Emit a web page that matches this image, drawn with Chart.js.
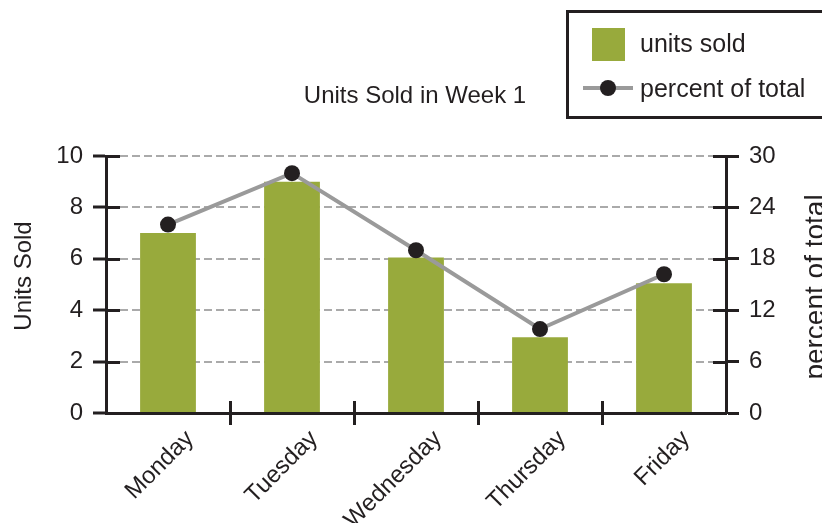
<!DOCTYPE html>
<html>
<head>
<meta charset="utf-8">
<title>Units Sold in Week 1</title>
<script src="https://cdn.jsdelivr.net/npm/chart.js@4"></script>
<style>
    html, body { margin: 0; padding: 0; background: #fff; }
    #wrap { width: 822px; height: 523px; }
</style>
</head>
<body>
<div id="wrap"><canvas id="week-chart" width="822" height="523"></canvas></div>
<script>
// 曜日ごとの販売数と構成比
const days = ['Monday', 'Tuesday', 'Wednesday', 'Thursday', 'Friday'];
const unitsSold = [7, 9, 6.05, 2.95, 5.05];
const percentOfTotal = [22, 28, 19, 9.8, 16.2];
const unitTicks = [0, 2, 4, 6, 8, 10];
const percentTicks = [0, 6, 12, 18, 24, 30];

const ink = '#231f20';
const green = '#98aa3c';
const lineGray = '#9a9a9a';
const font = 'Liberation Sans, Arial, sans-serif';

// タイトル・凡例・軸の目盛りなどを手描き
const decorations = {
    id: 'decorations',
    afterDraw(chart) {
        const { ctx, chartArea: area, scales } = chart;
        const x = scales.x, y = scales.y, y1 = scales.y1;
        ctx.save();

        // 軸の内側に出る目盛り
        ctx.strokeStyle = ink;
        ctx.lineWidth = 3;
        ctx.beginPath();
        y.ticks.forEach(t => {
            const py = Math.round(y.getPixelForValue(t.value)) + 0.5;
            ctx.moveTo(area.left, py);
            ctx.lineTo(area.left + 14, py);
        });
        y1.ticks.forEach(t => {
            const py = Math.round(y1.getPixelForValue(t.value)) + 0.5;
            ctx.moveTo(area.right - 13, py);
            ctx.lineTo(area.right, py);
        });
        // カテゴリ境界の十字目盛り
        for (let i = 1; i < days.length; i++) {
            const px = Math.round((x.getPixelForValue(i - 1) + x.getPixelForValue(i)) / 2) + 0.5;
            ctx.moveTo(px, area.bottom - 12);
            ctx.lineTo(px, area.bottom + 12);
        }
        ctx.stroke();

        // 横軸ラベル（45度回転）
        ctx.fillStyle = ink;
        ctx.font = '24px ' + font;
        ctx.textAlign = 'right';
        ctx.textBaseline = 'middle';
        days.forEach((d, i) => {
            ctx.save();
            ctx.translate(x.getPixelForValue(i) + 22, area.bottom + 22);
            ctx.rotate(-Math.PI / 4);
            ctx.fillText(d, 0, 0);
            ctx.restore();
        });

        // 軸タイトル
        ctx.textAlign = 'center';
        ctx.textBaseline = 'alphabetic';
        ctx.save();
        ctx.translate(31, 276);
        ctx.rotate(-Math.PI / 2);
        ctx.fillText('Units Sold', 0, 0);
        ctx.restore();
        ctx.save();
        ctx.font = '28px ' + font;
        ctx.translate(824, 287);
        ctx.rotate(-Math.PI / 2);
        ctx.fillText('percent of total', 0, 0);
        ctx.restore();

        // グラフタイトル
        ctx.fillText('Units Sold in Week 1', 415, 103);

        // 凡例
        const bars = chart.data.datasets[1];
        const line = chart.data.datasets[0];
        ctx.lineWidth = 3;
        ctx.strokeStyle = ink;
        ctx.strokeRect(567.5, 11.5, 300, 106);
        ctx.fillStyle = bars.backgroundColor;
        ctx.fillRect(592, 28, 33, 33);
        ctx.strokeStyle = line.borderColor;
        ctx.lineWidth = line.borderWidth;
        ctx.beginPath();
        ctx.moveTo(583, 88);
        ctx.lineTo(633, 88);
        ctx.stroke();
        ctx.fillStyle = line.pointBackgroundColor;
        ctx.beginPath();
        ctx.arc(608, 88, line.pointRadius, 0, Math.PI * 2);
        ctx.fill();
        ctx.fillStyle = ink;
        ctx.font = '25px ' + font;
        ctx.textAlign = 'left';
        ctx.fillText(bars.label, 640, 52);
        ctx.fillText(line.label, 640, 97);

        ctx.restore();
    }
};

const ctx = document.getElementById('week-chart').getContext('2d');
window.weekChart = new Chart(ctx, {
    type: 'bar',
    data: {
        labels: days,
        datasets: [{
            type: 'line',
            label: 'percent of total',
            data: percentOfTotal,
            yAxisID: 'y1',
            borderColor: lineGray,
            borderWidth: 4,
            pointRadius: 8,
            pointHoverRadius: 8,
            pointBackgroundColor: ink,
            pointBorderWidth: 0,
            tension: 0,
            order: 0
        }, {
            type: 'bar',
            label: 'units sold',
            data: unitsSold,
            yAxisID: 'y',
            backgroundColor: green,
            categoryPercentage: 1,
            barPercentage: 0.45,
            order: 1
        }]
    },
    options: {
        responsive: false,
        animation: false,
        devicePixelRatio: 1,
        layout: { padding: { top: 156, bottom: 110, left: 0, right: 0 } },
        plugins: {
            legend: { display: false },
            tooltip: { enabled: false },
            title: { display: false }
        },
        scales: {
            x: {
                grid: { display: false },
                border: { display: true, color: ink, width: 3 },
                ticks: { display: false },
                afterFit: (s) => { s.height = 0; }
            },
            y: {
                position: 'left',
                min: 0,
                max: 10,
                afterBuildTicks: (s) => { s.ticks = unitTicks.map(v => ({ value: v })); },
                grid: {
                    color: '#aaaaaa',
                    lineWidth: 2,
                    tickColor: ink,
                    tickWidth: 3,
                    tickLength: 13
                },
                border: { color: ink, width: 3, dash: [8, 4] },
                ticks: {
                    color: ink,
                    font: { family: font, size: 24 },
                    padding: 10
                },
                afterFit: (s) => { s.width = 106; s.paddingTop = 0; s.paddingBottom = 0; }
            },
            y1: {
                position: 'right',
                min: 0,
                max: 30,
                afterBuildTicks: (s) => { s.ticks = percentTicks.map(v => ({ value: v })); },
                grid: {
                    drawOnChartArea: false,
                    tickColor: ink,
                    tickWidth: 3,
                    tickLength: 13
                },
                border: { color: ink, width: 3 },
                ticks: {
                    color: ink,
                    font: { family: font, size: 24 },
                    padding: 10
                },
                afterFit: (s) => { s.width = 96; s.paddingTop = 0; s.paddingBottom = 0; }
            }
        }
    },
    plugins: [decorations]
});
</script>
</body>
</html>
